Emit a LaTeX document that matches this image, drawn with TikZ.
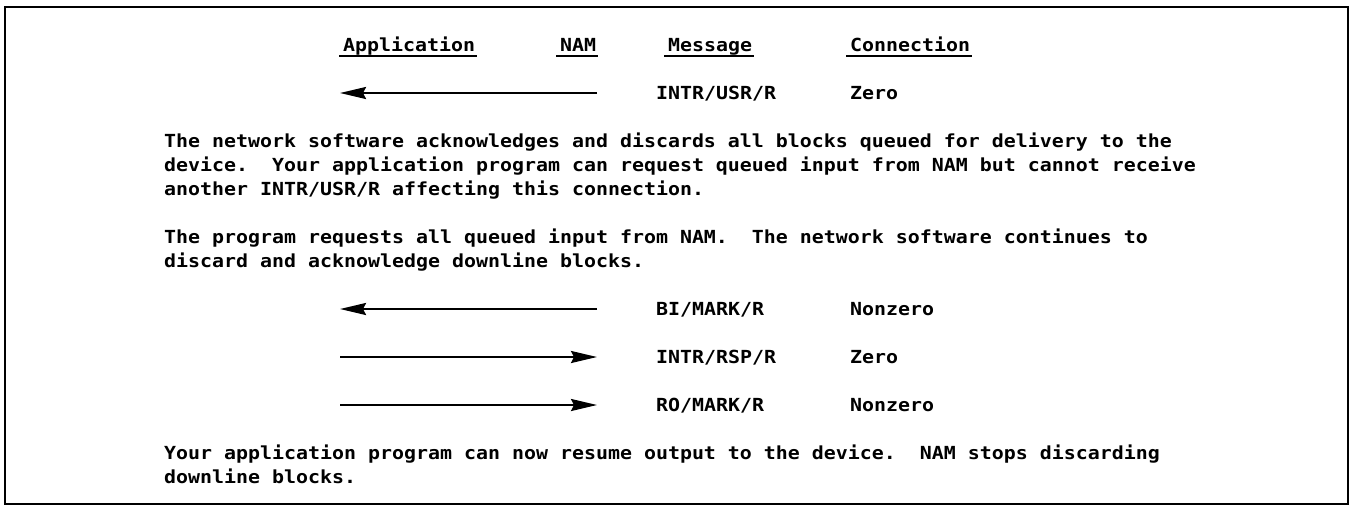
\documentclass[tikz,border=0pt]{standalone}
\usepackage{fontspec}
\newfontfamily\tw{DejaVu Sans Mono}[FakeStretch=1.107]
\usetikzlibrary{arrows.meta,calc}
\frenchspacing
\begin{document}
\begin{tikzpicture}[x=1pt,y=-1pt,
  txt/.style={anchor=base west, inner sep=0pt, font=\tw\bfseries\fontsize{18}{24}\selectfont},
  arr/.style={line width=2.2pt, -{Stealth[length=26pt,width=12pt,inset=3pt]}},
  uline/.style={line width=2.5pt},
  frame/.style={line width=2pt}]
\useasboundingbox (0,0) rectangle (1356,506);
\draw[frame] (5,7) rectangle (1348,504);
% header
\node[txt] (hApp) at (343,51) {Application};
\node[txt] (hNam) at (560,51) {NAM};
\node[txt] (hMsg) at (668,51) {Message};
\node[txt] (hCon) at (850,51) {Connection};
\foreach \n in {hApp,hNam,hMsg,hCon}
  \draw[uline] ($(\n.base west)+(-4,5)$) -- ($(\n.base east)+(2,5)$);
% row 1
\coordinate (a1s) at (597,93);
\coordinate (a1e) at (340,93);
\draw[arr] (a1s) -- (a1e);
\node[txt] (m1) at (656,99) {INTR/USR/R};
\node[txt] (c1) at (850,99) {Zero};
% paragraph 1
\node[txt] (p1a) at (164,147) {The network software acknowledges and discards all blocks queued for delivery to the};
\node[txt] (p1b) at (164,171) {device.~~Your application program can request queued input from NAM but cannot receive};
\node[txt] (p1c) at (164,195) {another INTR/USR/R affecting this connection.};
% paragraph 2
\node[txt] (p2a) at (164,243) {The program requests all queued input from NAM.~~The network software continues to};
\node[txt] (p2b) at (164,267) {discard and acknowledge downline blocks.};
% rows
\coordinate (a2s) at (597,309);
\coordinate (a2e) at (340,309);
\draw[arr] (a2s) -- (a2e);
\node[txt] (m2) at (656,315) {BI/MARK/R};
\node[txt] (c2) at (850,315) {Nonzero};
\coordinate (a3s) at (340,357);
\coordinate (a3e) at (597,357);
\draw[arr] (a3s) -- (a3e);
\node[txt] (m3) at (656,363) {INTR/RSP/R};
\node[txt] (c3) at (850,363) {Zero};
\coordinate (a4s) at (340,405);
\coordinate (a4e) at (597,405);
\draw[arr] (a4s) -- (a4e);
\node[txt] (m4) at (656,411) {RO/MARK/R};
\node[txt] (c4) at (850,411) {Nonzero};
% paragraph 3
\node[txt] (p3a) at (164,459) {Your application program can now resume output to the device.~~NAM stops discarding};
\node[txt] (p3b) at (164,483) {downline blocks.};
\end{tikzpicture}
\end{document}
